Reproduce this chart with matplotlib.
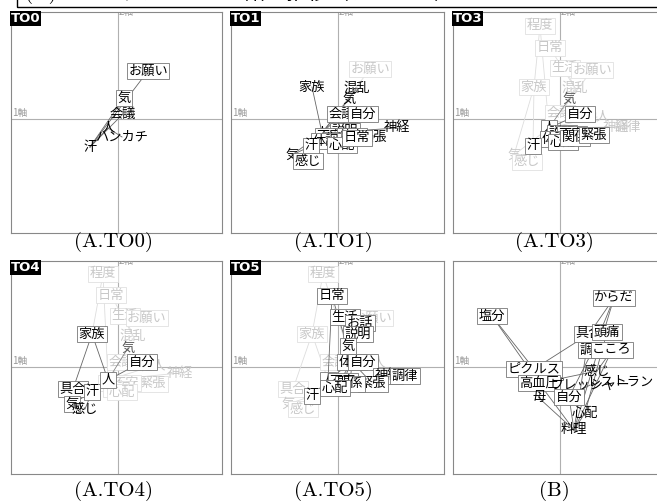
import matplotlib
matplotlib.use('Agg')
import matplotlib.pyplot as plt
from matplotlib.patches import Rectangle

plt.rcParams['font.family'] = ['Noto Sans CJK JP', 'DejaVu Sans']

# word positions on the (1軸, 2軸) plane, tone: 0 black, 1 gray, 2 faded
words0 = ['お願い', '気', '会議', '人', 'ハンカチ', '汗']
x0 = [30, 6, 5, -10, 4, -28]
y0 = [48, 21, 5, -9, -18, -28]
box0 = [1, 1, 0, 0, 0, 0]
tone0 = [0, 0, 0, 0, 0, 0]
edges0 = [(5, 0), (5, 1), (5, 2), (5, 3), (3, 4), (2, 1)]

words1 = ['お願い', '家族', '混乱', '気', '会議', '自分', '神経', '緊張', '人', '説明',
          '不安', '他人', '生活', '体調', '心配', '日常', '汗', '気', '感じ']
x1 = [32, -26, 19, 11, 4, 25, 59, 36, -16, 7, -8, 14, 0, -12, 4, 19, -27, -46, -30]
y1 = [50, 32, 31, 20, 5, 5, -9, -18, -14, -12, -17, -17, -21, -22, -26, -19, -27, -36, -42]
box1 = [1, 0, 0, 0, 1, 1, 0, 0, 0, 1, 1, 1, 1, 1, 1, 1, 1, 0, 1]
tone1 = [2] + [0] * 18
edges1 = [(8, 0), (8, 1), (8, 2), (8, 3), (8, 4), (8, 5), (8, 6), (8, 7), (8, 16), (8, 17),
          (8, 18), (8, 9), (8, 10), (8, 11), (8, 12), (8, 13), (8, 14), (8, 15), (16, 17)]

words2 = ['程度', '日常', '生活', 'お願い', '家族', '混乱', '会議', '他人', '神経', '調律',
          '気', '感じ', '気', '自分', '人', '説明', '不安', '体調', '心配', '関係', '緊張', '汗']
x2 = [-20, -10, 5, 32, -26, 15, 0, 37, 56, 68, -46, -33, 9, 20, -11, 2, 12, -5, 3, 15, 34, -27]
y2 = [93, 71, 51, 49, 32, 31, 6, 2, -8, -8, -36, -43, 20, 5, -9, -14, -15, -20, -23, -19, -16, -27]
box2 = [1, 1, 1, 1, 1, 0, 1, 0, 0, 0, 0, 1, 0, 1, 1, 1, 1, 1, 1, 1, 1, 1]
tone2 = [2] * 12 + [1] + [0] * 9
edges2 = [(0, 4), (0, 14), (1, 5), (2, 5), (4, 21), (4, 10), (5, 12), (6, 14), (7, 14),
          (8, 14), (9, 14), (10, 14), (11, 14), (3, 14),
          (12, 14), (13, 14), (14, 20), (14, 21), (14, 15), (14, 17), (14, 19)]

words3 = ['程度', '日常', '生活', 'お願い', '混乱', '会議', '他人', '神経', '緊張', '説明',
          '不安', '体調', '心配', '気', '自分', '家族', '人', '具合', '汗', '気', '感じ']
x3 = [-15, -7, 7, 29, 15, 4, 35, 62, 35, -5, 8, 0, 4, 10, 24, -26, -10, -45, -26, -46, -33]
y3 = [93, 72, 51, 49, 31, 5, 1, -6, -17, -16, -16, -22, -25, 19, 5, 33, -13, -22, -25, -37, -42]
box3 = [1, 1, 1, 1, 0, 1, 0, 0, 1, 1, 1, 1, 1, 0, 1, 1, 1, 1, 1, 1, 0]
tone3 = [2] * 13 + [1] + [0] * 7
edges3 = [(0, 16), (0, 15), (1, 4), (2, 4), (6, 16), (7, 16), (8, 16), (5, 16), (9, 16),
          (13, 16), (14, 16), (15, 17), (16, 18), (17, 18), (18, 20), (19, 18), (15, 16)]

words4 = ['程度', '家族', 'お願い', '具合', '気', '感じ', '会議', '他人', '日常', '生活',
          'お話', '説明', '気', '体調', '自分', '神経', '調律', '緊張', '人', '不安', '関係',
          '心配', '汗']
x4 = [-15, -26, 34, -45, -50, -35, -3, 35, -6, 7, 22, 20, 10, 14, 25, 50, 67, 35, -10, 5, 12, -3, -26]
y4 = [93, 33, 49, -22, -37, -42, 5, 4, 71, 50, 44, 33, 21, 5, 5, -9, -9, -17, -13, -14, -17, -21, -29]
box4 = [1, 1, 1, 1, 0, 1, 1, 0] + [1] * 15
tone4 = [2] * 8 + [0] * 15
edges4 = [(0, 1), (1, 3), (1, 18), (4, 22), (5, 22), (7, 13), (6, 13), (0, 13),
          (8, 13), (9, 13), (10, 13), (11, 13), (12, 13), (13, 15), (13, 16), (13, 17),
          (13, 18), (18, 22), (13, 19), (13, 20), (13, 21), (8, 18)]

words5 = ['からだ', '塩分', '具合', '頭痛', '調子', 'こころ', 'ピクルス', '感じ', '高血圧',
          'プレッシャー', 'レストラン', '自分', '母', '心配', '料理']
x5 = [54, -68, 29, 47, 33, 52, -26, 37, -21, 30, 60, 9, -21, 25, 14]
y5 = [69, 51, 33, 35, 17, 17, -2, -4, -16, -18, -15, -30, -31, -46, -63]
box5 = [1, 1, 1, 1, 1, 1, 1, 0, 1, 0, 0, 1, 0, 0, 0]
tone5 = [0] * 15
edges5 = [(1, 8), (1, 6), (8, 14), (12, 14), (6, 2), (14, 0), (14, 2), (14, 5), (14, 11),
          (14, 13), (11, 4), (0, 4), (0, 2), (8, 7), (6, 11), (13, 3), (7, 5), (11, 9), (12, 8)]

panel_names = ['TO0', 'TO1', 'TO3', 'TO4', 'TO5', '']
captions = ['(A.TO0)', '(A.TO1)', '(A.TO3)', '(A.TO4)', '(A.TO5)', '(B)']

W, H = 657, 504
text_col = {0: 'black', 1: '#555555', 2: '#c8c8c8'}
edge_col = {0: '#777777', 1: '#999999', 2: '#e0e0e0'}
line_col = {0: '#666666', 1: '#888888', 2: '#dddddd'}


def draw_panel(fig, box, center, words, xs, ys, boxed, tones, edges, name):
    l, t, r, b = box
    cx, cy = center
    ax = fig.add_axes([l / W, 1 - b / H, (r - l) / W, (b - t) / H])
    ax.set_xlim(l - cx, r - cx)
    ax.set_ylim(cy - b, cy - t)
    ax.set_xticks([])
    ax.set_yticks([])
    for s in ax.spines.values():
        s.set_color('#888888')
        s.set_linewidth(0.8)
    ax.axhline(0, color='#b0b0b0', lw=0.8, zorder=0)
    ax.axvline(0, color='#b0b0b0', lw=0.8, zorder=0)
    ax.text(l - cx + 1, 1, '1軸', fontsize=7, color='#999999', ha='left', va='bottom')
    ax.text(1, cy - t, '2軸', fontsize=7, color='#999999', ha='left', va='center',
            clip_on=True)

    for i, j in edges:
        tone = max(tones[i], tones[j])
        ax.plot([xs[i], xs[j]], [ys[i], ys[j]], color=line_col[tone], lw=0.6,
                zorder=1 if tone == 2 else 3)

    for k, w in enumerate(words):
        tone = tones[k]
        bb = None
        if boxed[k]:
            bb = dict(boxstyle='square,pad=0.1', facecolor='white',
                      edgecolor=edge_col[tone], lw=0.6)
        ax.text(xs[k], ys[k], w, fontsize=9.5, color=text_col[tone], ha='center',
                va='center', bbox=bb, zorder=2 if tone == 2 else 4)

    if name:
        ax.text(0, 1, name, transform=ax.transAxes, fontsize=9.5, color='white',
                fontweight='bold', ha='left', va='top', family='DejaVu Sans Condensed',
                bbox=dict(boxstyle='square,pad=0.05', facecolor='black', edgecolor='none'),
                zorder=6)
    return ax


def main():
    fig = plt.figure(figsize=(6.57, 5.04), dpi=100)

    # cut-off heading box at the very top
    fig.patches.append(Rectangle((17 / W, 1 - 7 / H), 1, 0.1, transform=fig.transFigure,
                                 fill=False, edgecolor='black', lw=1.0))
    fig.text(25 / W, 1 + 1 / H, '(A)　トピックごとの全語の推移（データ A）', fontsize=15,
             ha='left', va='baseline', family=['cmr10', 'Noto Sans CJK JP'])

    cols = [(11, 222, 118), (231, 444, 338), (453, 665, 560)]
    rows = [(12, 233, 119), (261, 474, 367)]
    data = [(words0, x0, y0, box0, tone0, edges0),
            (words1, x1, y1, box1, tone1, edges1),
            (words2, x2, y2, box2, tone2, edges2),
            (words3, x3, y3, box3, tone3, edges3),
            (words4, x4, y4, box4, tone4, edges4),
            (words5, x5, y5, box5, tone5, edges5)]
    cap_x = [114, 333, 554]
    cap_y = [242, 491]

    for n, d in enumerate(data):
        ri, ci = divmod(n, 3)
        l, r, cx = cols[ci]
        t, b, cy = rows[ri]
        draw_panel(fig, (l, t, r, b), (cx, cy), *d, panel_names[n])
        fig.text(cap_x[ci] / W, 1 - cap_y[ri] / H, captions[n], fontsize=15,
                 ha='center', va='center', family='cmr10')

    fig.savefig('out.png', dpi=100)


if __name__ == "__main__":
    main()
